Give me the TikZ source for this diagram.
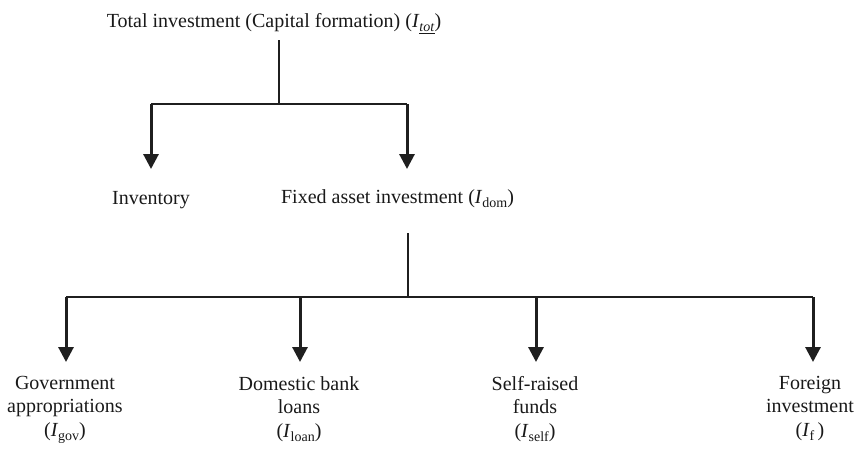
\documentclass[tikz,border=0pt]{standalone}
\usepackage{fontspec}
\setmainfont{Liberation Serif}
\usetikzlibrary{arrows.meta}
\newcommand{\mysub}[1]{\raisebox{-4.5pt}{\fontsize{14}{14}\selectfont #1}}
\begin{document}
\begin{tikzpicture}[x=1pt,y=-1pt,
  lbl/.style={font=\fontsize{20}{23.5}\selectfont, inner sep=0pt, text=black!90},
  mlbl/.style={lbl, align=center, anchor=north},
  thinline/.style={line width=1.4pt, draw=black!88},
  arr/.style={line width=3pt, draw=black!88, -{Triangle[width=15pt,length=15pt]}}]
\useasboundingbox (0,0) rectangle (861,451);
% texts
\node[lbl, anchor=base] (tot) at (274,27) {Total investment (Capital formation) (\textit{I}\mysub{\underline{\textit{tot}}})};
\node[lbl, anchor=base] (inv) at (151,204) {Inventory};
\node[lbl, anchor=base] (fix) at (397.5,203) {Fixed asset investment (\textit{I}\mysub{dom})};
\node[mlbl] (gov) at (65,376) {Government\\appropriations\\(\textit{I}\mysub{gov})};
\node[mlbl] (loan) at (299,376) {Domestic bank\\loans\\(\textit{I}\mysub{loan})};
\node[mlbl] (self) at (535,376) {Self-raised\\funds\\(\textit{I}\mysub{self})};
\node[mlbl] (for) at (810,376) {Foreign\\investment\\(\textit{I}\mysub{f}\,)};
% junction coordinates
\coordinate (t0) at (279,40);
\coordinate (t1) at (279,104);
\coordinate (tl) at (151,104);
\coordinate (tr) at (407,104);
\coordinate (tlend) at (151,169);
\coordinate (trend) at (407,169);
\coordinate (b0) at (408,233);
\coordinate (b1) at (408,297);
\coordinate (bl) at (66,297);
\coordinate (br) at (813,297);
\coordinate (bg) at (66,297);
\coordinate (bn) at (300,297);
\coordinate (bs) at (536,297);
\coordinate (bf) at (813,297);
\coordinate (bgend) at (66,362);
\coordinate (bnend) at (300,362);
\coordinate (bsend) at (536,362);
\coordinate (bfend) at (813,362);
% connectors
\draw[thinline] (t0) -- (t1);
\draw[thinline] (tl) -- (tr);
\draw[arr] (tl) -- (tlend);
\draw[arr] (tr) -- (trend);
\draw[thinline] (b0) -- (b1);
\draw[thinline] (bl) -- (br);
\draw[arr] (bg) -- (bgend);
\draw[arr] (bn) -- (bnend);
\draw[arr] (bs) -- (bsend);
\draw[arr] (bf) -- (bfend);
\end{tikzpicture}
\end{document}
